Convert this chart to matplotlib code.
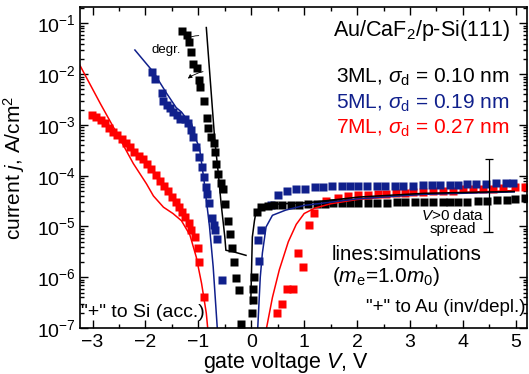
import numpy as np
import matplotlib
matplotlib.use('Agg')
import matplotlib.pyplot as plt
from matplotlib.ticker import MultipleLocator, LogLocator, NullFormatter, FixedLocator

plt.rcParams['font.family'] = ['Liberation Sans', 'DejaVu Sans']
plt.rcParams['mathtext.fontset'] = 'custom'
plt.rcParams['mathtext.rm'] = 'Liberation Sans'
plt.rcParams['mathtext.it'] = 'Liberation Sans:italic'
plt.rcParams['mathtext.bf'] = 'Liberation Sans:bold'

# measured data (squares), V in volts, j in A/cm^2
v3 = [-1.31, -1.22, -1.18, -1.14, -1.11, -1.03, -0.99, -0.96, -0.90, -0.84, -0.81, -0.77,
      -0.71, -0.68, -0.66, -0.62, -0.58, -0.54, -0.49, -0.44, -0.40, -0.36, -0.32, -0.28,
      -0.24, -0.20,
      0.01, 0.03, 0.04, 0.05, 0.10, 0.19, 0.31, 0.43, 0.59, 0.75, 0.91, 1.07, 1.24, 1.39,
      1.54, 1.71, 1.86, 2.02, 2.20, 2.37, 2.56, 2.75, 2.90, 3.09, 3.27, 3.43, 3.62, 3.75,
      3.90, 4.08, 4.28, 4.45, 4.64, 4.83, 4.98, 5.17]
j3 = [7.2e-2, 5.8e-2, 4.3e-2, 2.7e-2, 1.6e-2, 1.35e-2, 7.6e-3, 5.5e-3, 3.0e-3, 1.4e-3, 8.9e-4, 5.8e-4,
      4.4e-4, 2.9e-4, 1.7e-4, 1.1e-4, 7.1e-5, 5.5e-5, 2.8e-5, 1.3e-5, 7.2e-6, 3.8e-6, 2.0e-6, 9.8e-7,
      5.5e-7, 1.2e-7,
      2.0e-7, 3.5e-7, 6.0e-7, 1.0e-6, 1.9e-5, 2.4e-5, 2.5e-5, 2.6e-5, 2.6e-5, 2.6e-5, 2.7e-5, 2.75e-5, 2.8e-5, 2.8e-5,
      2.9e-5, 2.9e-5, 2.9e-5, 2.9e-5, 2.9e-5, 2.9e-5, 2.95e-5, 3.0e-5, 3.0e-5, 3.0e-5, 3.0e-5, 3.0e-5, 3.0e-5, 3.0e-5,
      3.0e-5, 3.05e-5, 3.15e-5, 3.15e-5, 3.3e-5, 3.4e-5, 3.55e-5, 3.65e-5]

v5 = [-1.88, -1.82, -1.69, -1.66, -1.60, -1.54, -1.48, -1.41, -1.35, -1.26, -1.20, -1.13,
      -1.10, -1.04, -0.99, -0.94, -0.90, -0.86, -0.84, -0.80, -0.75, -0.70, -0.68, -0.64, -0.55,
      0.12, 0.15, 0.18, 0.37, 0.50, 0.68, 0.85, 1.01, 1.20, 1.36, 1.52, 1.71, 1.86, 2.02,
      2.18, 2.37, 2.52, 2.71, 2.87, 3.06, 3.25, 3.41, 3.56, 3.75, 3.90, 4.07, 4.25, 4.44,
      4.63, 4.82, 4.94]
j5 = [1.1e-2, 8.1e-3, 4.2e-3, 3.0e-3, 2.5e-3, 2.2e-3, 1.8e-3, 1.55e-3, 1.3e-3, 1.3e-3, 1.07e-3, 7.8e-4,
      5.8e-4, 3.6e-4, 2.3e-4, 1.5e-4, 9.3e-5, 6.0e-5, 4.3e-5, 2.9e-5, 1.45e-5, 1.05e-5, 8.5e-6, 5.6e-6, 8.7e-7,
      5.4e-6, 2.1e-6, 8.5e-6, 2.6e-5, 4.1e-5, 5.0e-5, 5.4e-5, 5.6e-5, 5.9e-5, 6.0e-5, 6.2e-5, 6.2e-5, 6.2e-5, 6.2e-5,
      6.3e-5, 6.3e-5, 6.3e-5, 6.4e-5, 6.4e-5, 6.4e-5, 6.5e-5, 6.5e-5, 6.6e-5, 6.7e-5, 6.7e-5, 6.9e-5, 7.0e-5, 7.0e-5,
      7.2e-5, 7.2e-5, 7.3e-5]

v7 = [-3.01, -2.93, -2.85, -2.77, -2.69, -2.61, -2.53, -2.45, -2.37, -2.29, -2.21, -2.13,
      -2.05, -1.97, -1.89, -1.81, -1.73, -1.65, -1.57, -1.50, -1.43, -1.37, -1.31, -1.25,
      -1.18, -1.13, -1.07, -1.01, -0.98, -0.90,
      0.49, 0.59, 0.68, 0.79, 0.88, 0.98, 1.09, 1.18, 1.42, 1.64, 1.83, 2.02, 2.20, 2.39,
      2.55, 2.74, 2.90, 3.06, 3.25, 3.44, 3.63, 3.81, 4.00, 4.19, 4.38, 4.57, 4.76, 4.98, 5.17]
j7 = [1.55e-3, 1.45e-3, 1.26e-3, 1.07e-3, 8.9e-4, 7.4e-4, 6.3e-4, 5.4e-4, 4.5e-4, 3.7e-4, 3.0e-4, 2.5e-4,
      2.1e-4, 1.74e-4, 1.38e-4, 1.05e-4, 7.9e-5, 6.3e-5, 4.9e-5, 3.8e-5, 3.0e-5, 2.4e-5, 1.95e-5, 1.55e-5,
      1.15e-5, 8.5e-6, 6.2e-6, 3.7e-6, 2.0e-6, 4.1e-7,
      2.0e-7, 3.0e-7, 6.0e-7, 5.8e-7, 3.0e-6, 1.6e-6, 1.05e-5, 1.86e-5, 3.2e-5, 3.6e-5, 3.9e-5, 4.1e-5, 4.2e-5, 4.3e-5,
      4.3e-5, 4.5e-5, 4.5e-5, 4.7e-5, 4.8e-5, 4.9e-5, 5.0e-5, 5.1e-5, 5.4e-5, 5.4e-5, 5.6e-5, 5.6e-5, 5.75e-5, 6.0e-5, 6.0e-5]

# simulations (lines), negative and positive branches
s3n_v = [-0.85, -0.69, -0.63, -0.57, -0.50, -0.48, -0.35, -0.10]
s3n_j = [8.3e-2, 5.0e-4, 1.3e-4, 2.8e-5, 6.2e-6, 3.4e-6, 3.2e-6, 2.7e-6]
s3p_v = [-0.01, 0.02, 0.06, 0.09, 0.18, 0.34, 0.59, 1.09, 2.03, 3.26, 4.97]
s3p_j = [3.0e-7, 6.2e-6, 1.3e-5, 1.95e-5, 2.4e-5, 2.7e-5, 2.8e-5, 2.95e-5, 3.8e-5, 4.5e-5, 4.9e-5]

s5n_v = [-2.20, -1.85, -1.60, -1.42, -1.32, -1.20, -1.13, -1.04, -0.98, -0.89, -0.79, -0.72, -0.64]
s5n_j = [3.0e-2, 1.1e-2, 4.2e-3, 2.2e-3, 1.8e-3, 1.23e-3, 1.07e-3, 5.0e-4, 3.6e-4, 7.6e-5, 1.0e-5, 1.6e-6, 9e-8]
s5p_v = [0.12, 0.17, 0.21, 0.28, 0.40, 0.65, 1.00, 2.00, 3.26, 4.97]
s5p_j = [9e-8, 1.0e-6, 3.0e-6, 9.8e-6, 1.66e-5, 2.1e-5, 2.6e-5, 3.5e-5, 4.3e-5, 4.8e-5]

s7n_v = [-3.24, -2.85, -2.54, -2.23, -1.98, -1.85, -1.66, -1.48, -1.32, -1.16, -1.04, -0.94, -0.85, -0.82]
s7n_j = [1.5e-2, 2.6e-3, 6.8e-4, 1.74e-4, 6.9e-5, 4.0e-5, 2.4e-5, 1.8e-5, 1.3e-5, 6.8e-6, 2.5e-6, 7.6e-7, 1.95e-7, 9e-8]
s7p_v = [0.28, 0.40, 0.53, 0.70, 0.85, 1.00, 1.20, 1.50, 2.00, 3.00, 4.00, 4.97]
s7p_j = [9e-8, 4.0e-7, 1.4e-6, 5.0e-6, 1.1e-5, 1.8e-5, 2.3e-5, 2.8e-5, 3.4e-5, 4.2e-5, 4.7e-5, 5.1e-5]

spread_v = 4.49
spread_j = [7.8e-6, 2.1e-4]

yticks = [1e-7, 1e-6, 1e-5, 1e-4, 1e-3, 1e-2, 1e-1]

c3, c5, c7 = 'black', '#10208c', '#ff0000'

fig = plt.figure(figsize=(5.29, 3.74), dpi=100)
ax = fig.add_axes([0.151, 0.123, 0.845, 0.858])

for v, j, c in ((v7, j7, c7), (v5, j5, c5), (v3, j3, c3)):
    ax.plot(v, j, 's', color=c, ms=5.5, mec='none')

for (vn, jn, vp, jp, c) in ((s7n_v, s7n_j, s7p_v, s7p_j, c7),
                            (s5n_v, s5n_j, s5p_v, s5p_j, c5),
                            (s3n_v, s3n_j, s3p_v, s3p_j, c3)):
    ax.plot(vn, jn, '-', color=c, lw=1.1)
    ax.plot(vp, jp, '-', color=c, lw=1.1)

ax.set_yscale('log')
ax.set_xlim(-3.24, 5.21)
ax.set_ylim(1e-7, 0.21)

ax.xaxis.set_major_locator(MultipleLocator(1))
ax.xaxis.set_minor_locator(MultipleLocator(0.5))
ax.yaxis.set_major_locator(FixedLocator(yticks))
ax.yaxis.set_minor_locator(LogLocator(base=10, subs=np.arange(2, 10), numticks=20))
ax.yaxis.set_minor_formatter(NullFormatter())
ax.tick_params(which='both', direction='in', top=True, right=True, width=1.0)
ax.tick_params(which='major', length=6, labelsize=14)
ax.tick_params(which='minor', length=3)
ax.tick_params(axis='x', pad=4)
ax.tick_params(axis='y', pad=3)
for sp in ax.spines.values():
    sp.set_linewidth(1.2)

ax.set_xlabel('gate voltage $V$, V', fontsize=15.5)
ax.set_ylabel('current $j$, A/cm$^2$', fontsize=15)
ax.xaxis.set_label_coords(0.461, -0.070)
ax.yaxis.set_label_coords(-0.118, 0.5)

# spread indicator
ax.vlines(spread_v, spread_j[0], spread_j[1], color='k', lw=0.9)
ax.hlines(spread_j, [4.38, 4.41], [4.57, 4.57], color='k', lw=0.9)

# degradation arrows
ax.annotate('', xy=(-1.29, 10**-1.33), xytext=(-0.94, 10**-1.24),
            arrowprops=dict(arrowstyle='-|>', lw=0.6, color='k', mutation_scale=6,
                            connectionstyle='arc3,rad=0.15'))
ax.annotate('', xy=(-1.24, 10**-2.12), xytext=(-0.86, 10**-1.94),
            arrowprops=dict(arrowstyle='-|>', lw=0.6, color='k', mutation_scale=6,
                            connectionstyle='arc3,rad=0.15'))

tr = ax.transAxes
ax.text(0.192, 0.856, 'degr.', transform=tr, fontsize=9.5, ha='center', va='baseline')
ax.text(0.962, 0.910, 'Au/CaF$_2$/p-Si(111)', transform=tr, fontsize=15.5, ha='right', va='baseline')
ax.text(0.962, 0.764, r'3ML, $\sigma_\mathrm{d}$ = 0.10 nm', transform=tr, fontsize=15,
        ha='right', va='baseline', color=c3)
ax.text(0.962, 0.684, r'5ML, $\sigma_\mathrm{d}$ = 0.19 nm', transform=tr, fontsize=15,
        ha='right', va='baseline', color=c5)
ax.text(0.962, 0.607, r'7ML, $\sigma_\mathrm{d}$ = 0.27 nm', transform=tr, fontsize=15,
        ha='right', va='baseline', color=c7)
ax.text(0.834, 0.336, '$V$>0 data', transform=tr, fontsize=11, ha='center', va='baseline')
ax.text(0.834, 0.295, 'spread', transform=tr, fontsize=11, ha='center', va='baseline')
ax.text(0.563, 0.212, 'lines:simulations', transform=tr, fontsize=14.8, ha='left', va='baseline')
ax.text(0.563, 0.144, r'($m_\mathrm{e}$=1.0$m_0$)', transform=tr, fontsize=15, ha='left', va='baseline')
ax.text(0.003, 0.035, '"+" to Si (acc.)', transform=tr, fontsize=14, ha='left', va='baseline')
ax.text(0.998, 0.051, '"+" to Au (inv/depl.)', transform=tr, fontsize=13.5, ha='right', va='baseline')

fig.savefig('out.png', dpi=100)
